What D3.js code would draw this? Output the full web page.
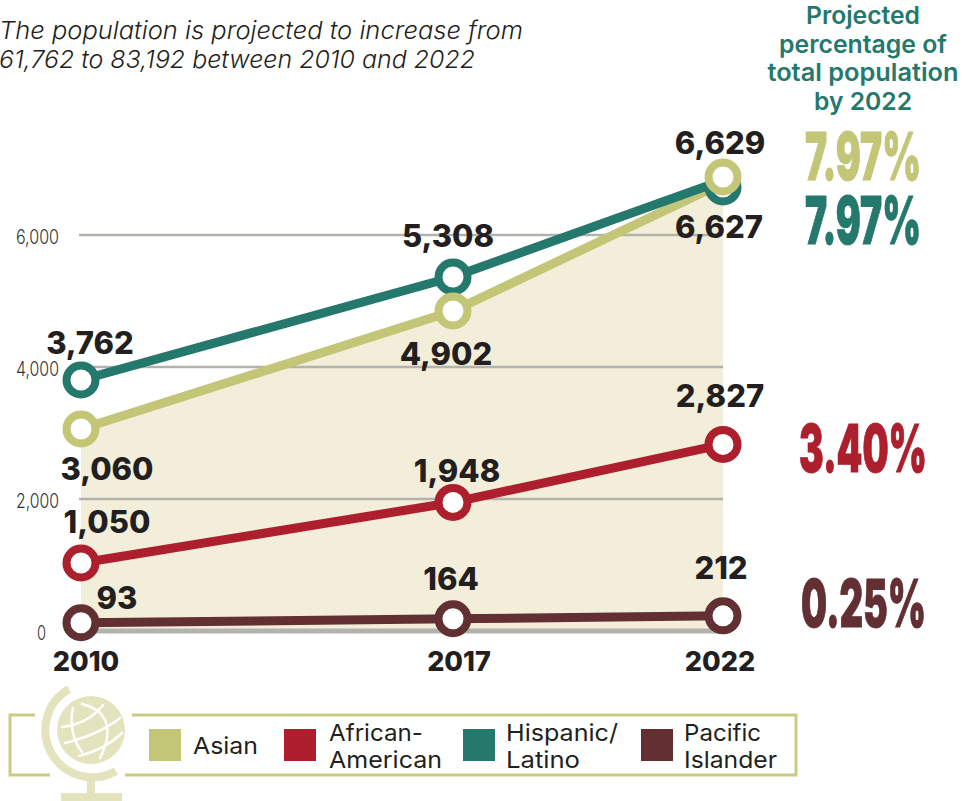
<!DOCTYPE html>
<html><head><meta charset="utf-8">
<style>html,body{margin:0;padding:0;background:#fff}svg{display:block}text{font-family:Inter,"Noto Sans",sans-serif}</style>
<script src="https://cdn.jsdelivr.net/npm/d3@7"></script></head><body>
<svg id="c" width="962" height="801"></svg>
<script>
const years=[2010,2017,2022];
const yTicks=[0,2000,4000,6000];
// Plotted heights (drawn points sit slightly off their printed labels)
const asianLine=[3060,4848,6790];
const hispanicLine=[3803,5364,6830];
const asianMarkers=[3060,4848,6879];
const hispanicMarkers=[3803,5364,6727];
const africanAmerican=[1030,1948,2827];
const pacific=[125,185,230];
const asianLabels=["3,060","4,902","6,629"];
const africanLabels=["1,050","1,948","2,827"];
const hispanicLabels=["3,762","5,308","6,627"];
const pacificLabels=["93","164","212"];
const shares=["7.97%","3.40%","7.97%","0.25%"];
const colors={asian:"#c3c677",african:"#ad1f2d",hispanic:"#25786c",pacific:"#622f32"};
const svg=d3.select("#c");
const x=d3.scaleLinear().domain(years).range([81,453,723]);
const y=d3.scaleLinear().domain([0,6000]).range([631,235]);
const ink="#231f20";
// area
svg.append("path").datum(years.map((d,i)=>[d,asianLine[i]])).attr("fill","#f3eed9")
 .attr("d",d3.area().x(d=>x(d[0])).y0(y(0)).y1(d=>y(d[1])));
// grid
svg.append("g").selectAll("line").data(yTicks).join("line")
 .attr("x1",79).attr("x2",723).attr("y1",d=>y(d)).attr("y2",d=>y(d))
 .attr("stroke","#b3b3ae").attr("stroke-width",d=>d===0?5:2.5);
svg.append("g").selectAll("text").data(yTicks).join("text")
 .attr("x",d=>d===0?46:59).attr("y",d=>y(d)+9).attr("text-anchor","end")
 .attr("font-size",20).attr("fill","#333").attr("font-weight",300)
 .attr("textLength",d=>d===0?9:43).attr("lengthAdjust","spacingAndGlyphs").text(d=>d3.format(",")(d));
// lines
const line=d3.line().x(d=>x(d[0])).y(d=>y(d[1]));
[[asianLine,colors.asian],[hispanicLine,colors.hispanic],[africanAmerican,colors.african],[pacific,colors.pacific]].forEach(([v,c])=>{
 svg.append("path").datum(years.map((d,i)=>[d,v[i]])).attr("d",line).attr("fill","none").attr("stroke",c).attr("stroke-width",9);
});
// markers
[[hispanicMarkers,colors.hispanic],[asianMarkers,colors.asian],[africanAmerican,colors.african],[pacific,colors.pacific]].forEach(([v,c])=>{
 svg.append("g").selectAll("circle").data(years.map((d,i)=>[d,v[i]])).join("circle")
  .attr("cx",d=>x(d[0])).attr("cy",d=>y(d[1])).attr("r",14.5).attr("fill","#fff").attr("stroke",c).attr("stroke-width",8);
});
// value labels
const lab=(t,cx,by)=>svg.append("text").attr("x",cx).attr("y",by).attr("text-anchor","middle").attr("font-size",31).attr("font-weight",800).attr("fill",ink).text(t);
[[asianLabels,[[107,480],[446,365],[720,154]]],
 [hispanicLabels,[[90,354],[448,247],[719,238]]],
 [africanLabels,[[107,533],[457,482],[720,407]]],
 [pacificLabels,[[117,609],[451,590],[721,579]]]]
 .forEach(([ls,ps])=>ls.forEach((t,i)=>lab(t,ps[i][0],ps[i][1])));
// x axis
svg.append("g").selectAll("text").data(years).join("text")
 .attr("x",(d,i)=>[86,459,720][i]).attr("y",671).attr("text-anchor","middle")
 .attr("font-size",27).attr("font-weight",800).attr("fill",ink).text(d=>d);
// subtitle
[["The population is projected to increase from",39,524],["61,762 to 83,192 between 2010 and 2022",68,476]].forEach(([t,b,w])=>
 svg.append("text").attr("x",-1).attr("y",b).attr("font-size",24.5).attr("font-style","italic").attr("font-weight",300).attr("fill",ink)
 .attr("textLength",w).attr("lengthAdjust","spacingAndGlyphs").text(t));
// right header
[["Projected",114],["percentage of",168],["total population",191],["by 2022",98]].forEach(([t,w],i)=>
 svg.append("text").attr("x",863).attr("y",24+i*28.6).attr("text-anchor","middle").attr("font-size",24.5).attr("font-weight",600).attr("fill",colors.hispanic)
 .attr("textLength",w).attr("lengthAdjust","spacingAndGlyphs").text(t));
// big shares
[[shares[0],805,180,116,colors.asian],[shares[2],805,244,116,colors.hispanic],[shares[1],799,472,128,colors.african],[shares[3],801,627,125,colors.pacific]].forEach(([t,px,by,w,c])=>
 svg.append("text").attr("x",px).attr("y",by).attr("font-size",66).attr("font-weight",900).attr("fill",c).attr("stroke",c).attr("stroke-width",1)
 .attr("textLength",w).attr("lengthAdjust","spacingAndGlyphs").text(t));
// legend box
svg.append("path").attr("fill","none").attr("stroke","#c9cb84").attr("stroke-width",3)
 .attr("d","M35,715H10V775H50 M125,775H796V715H132");
// globe
const g=svg.append("g"),gc="#e3e3bd";
g.append("circle").attr("cx",91).attr("cy",730).attr("r",34).attr("fill",gc);
g.append("path").attr("fill","none").attr("stroke",gc).attr("stroke-width",8)
 .attr("d","M69,689A47,47 0 0 0 116,771");
g.append("rect").attr("x",87).attr("y",776).attr("width",8).attr("height",18).attr("fill",gc);
g.append("rect").attr("x",61).attr("y",793).attr("width",61).attr("height",8).attr("fill",gc);
g.append("path").attr("fill","none").attr("stroke","#fff").attr("stroke-width",2.5).attr("stroke-linecap","round")
 .attr("d","M62,727C78,725 93,718 103,705M65,743C85,738 105,730 120,718M79,756C95,752 110,745 122,733M73,708C69,725 74,742 82,752M82,704C100,708 118,722 100,758");
// legend
[[149,colors.asian],[284,colors.african],[463,colors.hispanic],[641,colors.pacific]].forEach(([lx,c])=>
 svg.append("rect").attr("x",lx).attr("y",729).attr("width",32).attr("height",32).attr("fill",c));
[[193,754,"Asian",65],[329,741,"African-",94],[329,768,"American",113],[506,741,"Hispanic/",112],[506,768,"Latino",74],[684,741,"Pacific",77],[684,768,"Islander",93]].forEach(([lx,by,t,w])=>
 svg.append("text").attr("x",lx).attr("y",by).attr("font-size",23.5).attr("font-weight",400).attr("fill",ink)
 .attr("textLength",w).attr("lengthAdjust","spacingAndGlyphs").text(t));
</script></body></html>
